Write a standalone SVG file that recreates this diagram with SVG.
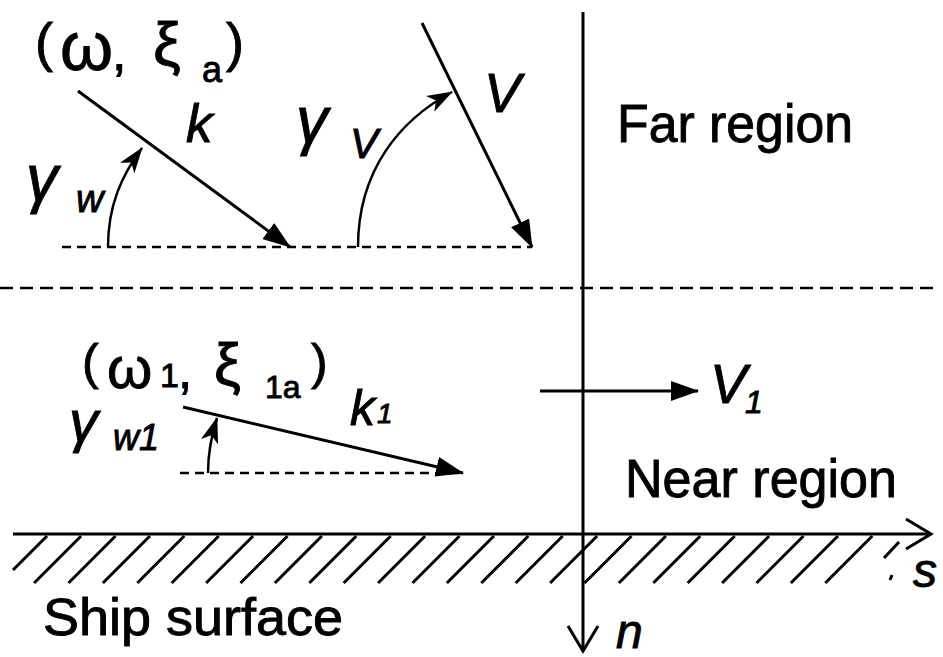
<svg xmlns="http://www.w3.org/2000/svg" width="943" height="657" viewBox="0 0 943 657">
<style>
.ln{stroke:#000;stroke-width:3;fill:none}
.thin{stroke:#000;stroke-width:2.5;fill:none}
.dash{stroke:#000;stroke-width:2.5;fill:none;stroke-dasharray:9 6}
.bigdash{stroke:#000;stroke-width:2.5;fill:none;stroke-dasharray:13 7}
.hatch{stroke:#000;stroke-width:3;fill:none}
text{font-family:"Liberation Sans",Arial,sans-serif;fill:#000;stroke:#000;stroke-width:0.9}
.it{font-style:italic}
</style>
<defs>
<marker id="tri" markerUnits="userSpaceOnUse" viewBox="0 0 28 20" refX="27" refY="10" markerWidth="28" markerHeight="20" orient="auto">
<path d="M0,0 L28,10 L0,20 Z" fill="#000"/>
</marker>
<marker id="barb" markerUnits="userSpaceOnUse" viewBox="0 0 26 18" refX="25" refY="9" markerWidth="26" markerHeight="18" orient="auto">
<path d="M0,0 L26,9 L0,18 L7,9 Z" fill="#000"/>
</marker>
<marker id="open" markerUnits="userSpaceOnUse" viewBox="0 0 30 34" refX="27" refY="17" markerWidth="30" markerHeight="34" orient="auto">
<path d="M2,2 L27,17 L2,32" fill="none" stroke="#000" stroke-width="3"/>
</marker>
</defs>

<g id="far-region">
<line class="bigdash" x1="0" y1="288" x2="933" y2="288"/>
<text x="617" y="142" font-size="53" textLength="236" lengthAdjust="spacingAndGlyphs">Far region</text>
</g>

<g id="incident-wave">
<line class="dash" x1="62" y1="247" x2="532" y2="247"/>
<text x="35" y="61" font-size="54">(</text>
<text x="60" y="70" font-size="68">ω</text>
<text x="112" y="70" font-size="52">,</text>
<text x="153" y="65" font-size="62">ξ</text>
<text x="202" y="82" font-size="36">a</text>
<text x="226" y="61" font-size="54">)</text>
<text class="it" x="186" y="142" font-size="53">k</text>
<text class="it" x="26" y="200" font-size="64">γ</text>
<text class="it" x="76" y="212" font-size="38">w</text>
</g>

<g id="ship-velocity">
<text class="it" x="484" y="112" font-size="55">V</text>
<text class="it" x="296" y="142" font-size="64">γ</text>
<text class="it" x="350" y="158" font-size="42">V</text>
</g>

<g id="near-wave">
<line class="dash" x1="180" y1="473" x2="463" y2="473"/>
<text x="82" y="379" font-size="50">(</text>
<text x="107" y="388" font-size="58">ω</text>
<text x="160" y="387" font-size="34">1</text>
<text x="178" y="388" font-size="51">,</text>
<text x="214" y="385" font-size="60">ξ</text>
<text x="265" y="398" font-size="32">1a</text>
<text x="311" y="379" font-size="50">)</text>
<text class="it" x="350" y="425" font-size="50">k</text>
<text class="it" x="377" y="423" font-size="28">1</text>
<text class="it" x="69" y="441" font-size="58">γ</text>
<text class="it" x="113" y="450" font-size="36">w1</text>
</g>

<g id="near-velocity">
<text class="it" x="710" y="403" font-size="55">V</text>
<text class="it" x="745" y="413" font-size="32">1</text>
</g>

<g id="near-region">
<text x="625" y="497" font-size="53" textLength="272" lengthAdjust="spacingAndGlyphs">Near region</text>
</g>

<g id="ship-surface">
<g class="hatch">
<line x1="47" y1="536" x2="13" y2="570"/>
<path d="M81.1,536 l-47,47 M115.5,536 l-47,47 M149.9,536 l-47,47 M184.3,536 l-47,47 M218.7,536 l-47,47 M253.1,536 l-47,47 M287.5,536 l-47,47 M321.9,536 l-47,47 M356.3,536 l-47,47 M390.7,536 l-47,47 M425.1,536 l-47,47 M459.5,536 l-47,47 M493.9,536 l-47,47 M528.3,536 l-47,47 M562.7,536 l-47,47 M597.1,536 l-47,47 M631.5,536 l-47,47 M665.9,536 l-47,47 M700.3,536 l-47,47 M734.7,536 l-47,47 M769.1,536 l-47,47 M803.5,536 l-47,47 M837.9,536 l-47,47 M872.3,536 l-47,47"/>
<line x1="899" y1="542" x2="884" y2="558"/>
<line x1="892" y1="575" x2="890" y2="580"/>
</g>
<text x="43" y="635" font-size="52" textLength="300" lengthAdjust="spacingAndGlyphs">Ship surface</text>
<text class="it" x="913" y="587" font-size="48">s</text>
<text class="it" x="616" y="648" font-size="48">n</text>
</g>

<g id="connectors">
<line class="ln" x1="13" y1="534" x2="931" y2="534" marker-end="url(#open)"/>
<line class="ln" x1="583" y1="12" x2="583" y2="651" marker-end="url(#open)"/>
<line class="ln" x1="78" y1="91" x2="290" y2="247" marker-end="url(#tri)"/>
<line class="ln" x1="422" y1="23" x2="532" y2="247" marker-end="url(#tri)"/>
<line class="ln" x1="183" y1="407" x2="463" y2="473" marker-end="url(#tri)"/>
<line class="ln" x1="540" y1="391" x2="698" y2="391" marker-end="url(#tri)"/>
<path class="thin" d="M108,247 C108,205 122,175 142,148" marker-end="url(#barb)"/>
<path class="thin" d="M358,247 C358,170 400,120 452,92" marker-end="url(#barb)"/>
<path class="thin" d="M208,473 C208,452 211,437 217,418" marker-end="url(#barb)"/>
</g>
</svg>
